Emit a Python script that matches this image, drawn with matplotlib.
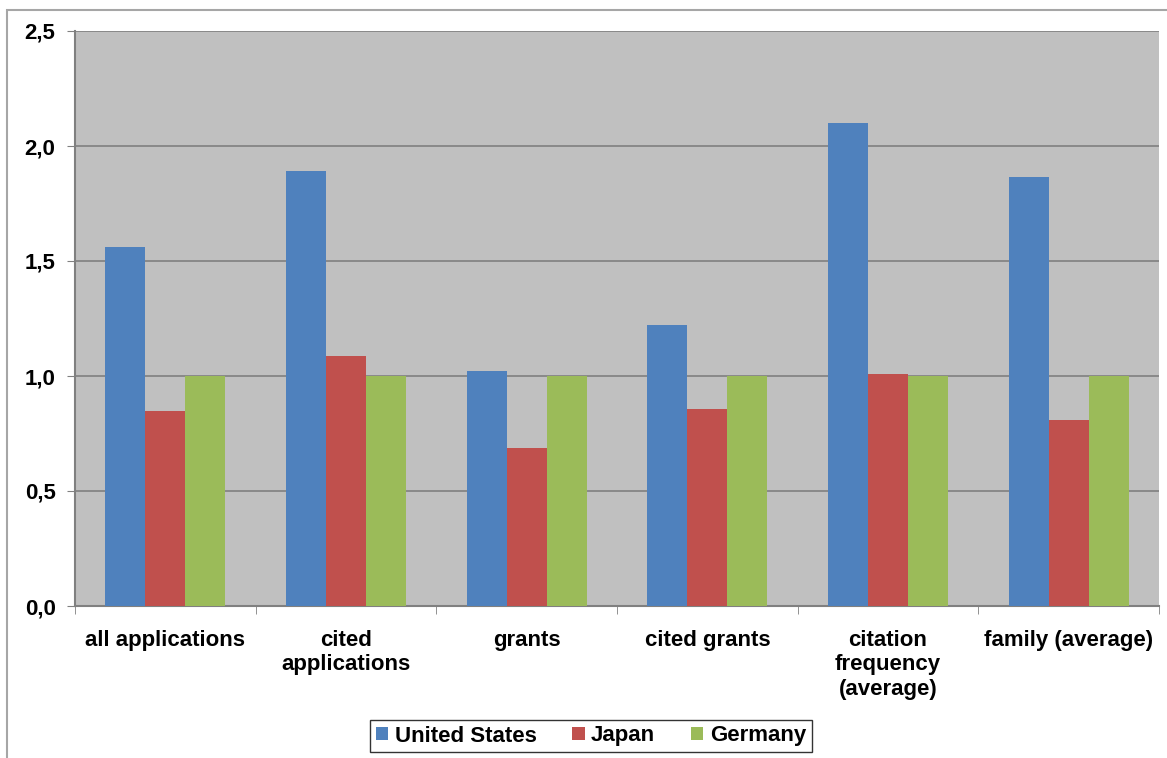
import numpy as np
import matplotlib.pyplot as plt
from matplotlib.patches import Rectangle
from matplotlib.ticker import FuncFormatter

categories = ['all applications', 'cited\napplications', 'grants', 'cited grants',
              'citation\nfrequency\n(average)', 'family (average)']
united_states = [1.56, 1.89, 1.02, 1.22, 2.10, 1.865]
japan = [0.85, 1.085, 0.685, 0.855, 1.01, 0.81]
germany = [1.0, 1.0, 1.0, 1.0, 1.0, 1.0]

plt.rcParams['font.family'] = ['Liberation Sans', 'DejaVu Sans']
plt.rcParams['font.weight'] = 'bold'

fig = plt.figure(figsize=(11.67, 7.58), dpi=100)
ax = fig.add_axes([75 / 1167, 152 / 758, 1084 / 1167, 575 / 758])

# outer chart frame
fig.patches.append(Rectangle((7 / 1167, -0.1), 1.2, 0.1 + 748 / 758,
                             transform=fig.transFigure, fill=False,
                             edgecolor='#a6a6a6', linewidth=1.5))

x = np.arange(len(categories))
w = 0.222
ax.bar(x - w, united_states, w, color='#4F81BD', label='United States', zorder=3)
ax.bar(x, japan, w, color='#C0504D', label='Japan', zorder=3)
ax.bar(x + w, germany, w, color='#9BBB59', label='Germany', zorder=3)

ax.set_facecolor('#C0C0C0')
ax.set_xlim(-0.5, len(categories) - 0.5)
ax.set_ylim(0, 2.5)
ax.set_yticks(np.arange(0, 2.51, 0.5))
ax.yaxis.set_major_formatter(FuncFormatter(lambda v, p: f'{v:.1f}'.replace('.', ',')))
ax.grid(axis='y', color='#808080', linewidth=1.2, zorder=1)

ax.set_xticks(x)
ax.set_xticklabels(categories, fontsize=16, fontweight='bold', linespacing=1.22,
                   va='top')
ax.set_xticks(np.arange(-0.5, len(categories)), minor=True)
ax.tick_params(axis='x', which='major', length=0, pad=17)
ax.tick_params(axis='x', which='minor', length=6, color='#808080')
ax.tick_params(axis='y', length=6, color='#808080', labelsize=16, pad=8)

for side in ['top', 'right']:
    ax.spines[side].set_visible(False)
for side in ['left', 'bottom']:
    ax.spines[side].set_color('#808080')
    ax.spines[side].set_linewidth(1.5)

leg = fig.legend(loc='center', bbox_to_anchor=(591 / 1167, 22 / 758), ncol=3,
                 fontsize=16, frameon=True, fancybox=False, edgecolor='black',
                 handlelength=0.55, handleheight=0.55, handletextpad=0.3,
                 columnspacing=1.6, borderpad=0.25, borderaxespad=0)
leg.get_frame().set_linewidth(1.0)

fig.savefig('out.png', dpi=100)
